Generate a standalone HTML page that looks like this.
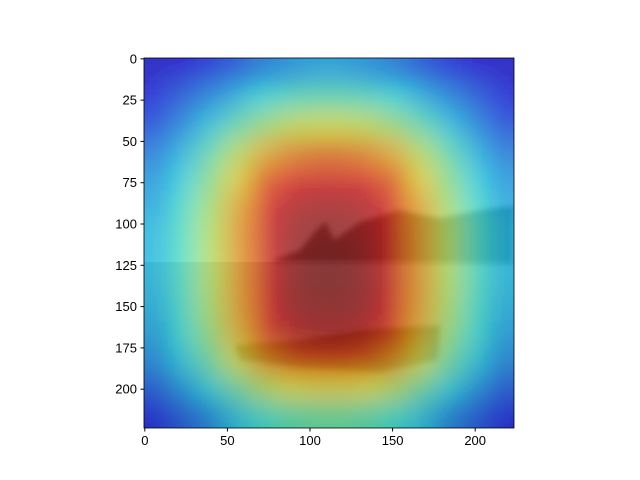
<!DOCTYPE html>
<html><head><meta charset="utf-8"><style>
body{margin:0;background:#fff;}
svg{display:block;font-family:"Liberation Sans",sans-serif;}
</style></head><body>
<svg id="chart" width="640" height="480">
<defs>
<clipPath id="clipAx"><rect x="144" y="58" width="370" height="370"/></clipPath>
<filter id="blur" x="-20%" y="-20%" width="140%" height="140%"><feGaussianBlur stdDeviation="12"/></filter>
<filter id="blur2"><feGaussianBlur stdDeviation="3"/></filter>
<linearGradient id="sky" x1="0" y1="0" x2="0" y2="1">
<stop offset="0" stop-color="#8a8a94"/><stop offset="1" stop-color="#bcbcbc"/></linearGradient>
<linearGradient id="sea" x1="0" y1="0" x2="0" y2="1">
<stop offset="0" stop-color="#9a9a9a"/><stop offset="1" stop-color="#6a6a6a"/></linearGradient>
</defs>
<g id="photo" clip-path="url(#clipAx)">
<rect x="144" y="58" width="370" height="206" fill="url(#sky)"/>
<rect x="144" y="262" width="370" height="166" fill="url(#sea)"/>
<path d="M270,262 L300,250 L318,228 L326,222 L334,240 L360,222 L398,210 L440,218 L480,210 L514,206 L514,264 Z" fill="#5a5a5a" filter="url(#blur2)"/>
<path d="M235,345 L300,340 L360,330 L440,325 L438,360 L380,372 L300,368 L240,360 Z" fill="#4a4a40" filter="url(#blur2)"/>
</g>
<g id="heat" clip-path="url(#clipAx)"><g id="cells" filter="url(#blur)" opacity="0.62"></g></g>
<rect x="144" y="58" width="370" height="370" fill="none" stroke="#000" stroke-width="0.8"/>
<g id="axes"></g>
</svg>
<script>
const xTicks=[0,50,100,150,200];
const yTicks=[0,25,50,75,100,125,150,175,200];
const heat=[
[0.10,0.12,0.15,0.20,0.25,0.28,0.30,0.30,0.28,0.25,0.20,0.15,0.12,0.10],
[0.14,0.20,0.26,0.32,0.38,0.42,0.44,0.44,0.42,0.38,0.32,0.26,0.20,0.14],
[0.18,0.26,0.34,0.44,0.52,0.58,0.60,0.60,0.58,0.52,0.44,0.34,0.26,0.18],
[0.24,0.32,0.44,0.56,0.68,0.74,0.77,0.77,0.74,0.68,0.56,0.44,0.32,0.24],
[0.28,0.36,0.50,0.64,0.80,0.87,0.89,0.89,0.87,0.80,0.64,0.50,0.36,0.28],
[0.30,0.40,0.54,0.70,0.87,0.93,0.95,0.95,0.93,0.87,0.70,0.54,0.40,0.30],
[0.32,0.42,0.56,0.72,0.89,0.96,0.98,0.98,0.96,0.89,0.72,0.56,0.42,0.32],
[0.32,0.42,0.56,0.72,0.89,0.97,1.00,1.00,0.97,0.89,0.72,0.56,0.42,0.32],
[0.32,0.42,0.56,0.72,0.89,0.97,1.00,1.00,0.97,0.89,0.72,0.56,0.42,0.32],
[0.31,0.41,0.55,0.71,0.88,0.96,0.98,0.98,0.96,0.88,0.71,0.55,0.41,0.31],
[0.29,0.39,0.52,0.68,0.84,0.92,0.95,0.95,0.92,0.84,0.68,0.52,0.39,0.29],
[0.26,0.35,0.46,0.60,0.72,0.80,0.83,0.83,0.80,0.72,0.60,0.46,0.35,0.26],
[0.20,0.28,0.36,0.46,0.56,0.62,0.64,0.64,0.62,0.56,0.46,0.36,0.28,0.20],
[0.14,0.20,0.26,0.34,0.40,0.44,0.46,0.46,0.44,0.40,0.34,0.26,0.20,0.14]];
const NS="http://www.w3.org/2000/svg";
const x0=144,y0=58,W=370,N=224;
const sx=d=>x0+(d+0.5)*W/N, sy=d=>y0+(d+0.5)*W/N;
const cl=v=>Math.max(0,Math.min(1,v));
function jet(v){const r=cl(1.5-Math.abs(4*v-3)),g=cl(1.5-Math.abs(4*v-2)),b=cl(1.5-Math.abs(4*v-1));
return `rgb(${Math.round(r*255)},${Math.round(g*255)},${Math.round(b*255)})`;}
const cells=document.getElementById('cells');
const n=heat.length, cs=N/n;
heat.forEach((row,i)=>row.forEach((v,j)=>{
 const r=document.createElementNS(NS,'rect');
 let xa=sx(j*cs-0.5), xb=sx((j+1)*cs-0.5), ya=sy(i*cs-0.5), yb=sy((i+1)*cs-0.5);
 if(j===0)xa-=40; if(j===n-1)xb+=40; if(i===0)ya-=40; if(i===n-1)yb+=40;
 r.setAttribute('x',xa);r.setAttribute('y',ya);r.setAttribute('width',xb-xa+0.5);r.setAttribute('height',yb-ya+0.5);
 r.setAttribute('fill',jet(v));
 
 
 cells.appendChild(r);
}));
const ax=document.getElementById('axes');
xTicks.forEach(t=>{
 const l=document.createElementNS(NS,'line');
 l.setAttribute('x1',sx(t));l.setAttribute('x2',sx(t));l.setAttribute('y1',428);l.setAttribute('y2',431.5);l.setAttribute('stroke','#000');
 
 
 ax.appendChild(l);
 const tx=document.createElementNS(NS,'text');
 tx.setAttribute('x',sx(t));tx.setAttribute('y',445);tx.setAttribute('text-anchor','middle');tx.setAttribute('font-size','13');
 tx.textContent=t;
 
 
 ax.appendChild(tx);
});
yTicks.forEach(t=>{
 const l=document.createElementNS(NS,'line');
 l.setAttribute('x1',140.5);l.setAttribute('x2',144);l.setAttribute('y1',sy(t));l.setAttribute('y2',sy(t));l.setAttribute('stroke','#000');
 
 
 ax.appendChild(l);
 const tx=document.createElementNS(NS,'text');
 tx.setAttribute('x',137);tx.setAttribute('y',sy(t)+4.5);tx.setAttribute('text-anchor','end');tx.setAttribute('font-size','13');
 tx.textContent=t;
 
 
 ax.appendChild(tx);
});
</script>
</body></html>
